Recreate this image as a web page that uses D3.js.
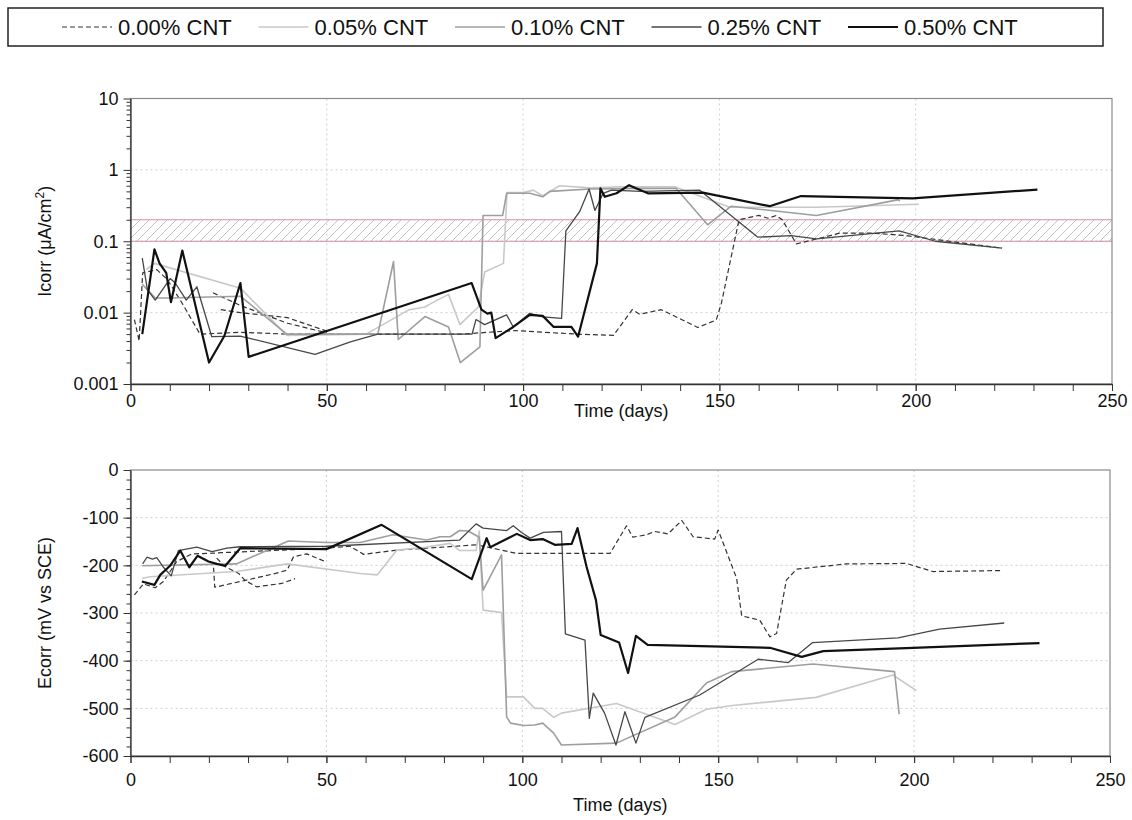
<!DOCTYPE html>
<head>
    <meta charset="utf-8">
    <script src="https://cdn.jsdelivr.net/npm/d3@7"></script>
    <style>
        body { margin: 0; background: #fff; }
        svg text { font-family: "Liberation Sans", Arial, sans-serif; fill: #111; }
    </style>
</head>
<body>
<div id="chart"></div>
<script>

    // series names (legend)
    const seriesNames = ["0.00% CNT", "0.05% CNT", "0.10% CNT", "0.25% CNT", "0.50% CNT"];

    // Icorr (uA/cm2) vs time (days) ; null = break in the line
    const icorr000 = [[1, 0.008], [2.2, 0.004], [3.1, 0.036], [6.7, 0.040], [9.4, 0.029], [13, 0.014], [17.7, 0.005],
        [28, 0.0053], [40, 0.005], [60, 0.005], [84, 0.005], [98, 0.0056], [113.6, 0.005], [123, 0.0048], [127.8, 0.011],
        [129.7, 0.0095], [135.2, 0.011], [144.5, 0.0062], [149.2, 0.0079], [150.5, 0.0135], [155, 0.2], [160, 0.23],
        [162.4, 0.21], [164.5, 0.23], [166, 0.2], [169.6, 0.092], [175.5, 0.11], [180.6, 0.13], [189, 0.13], [197.6, 0.12],
        [222, 0.08], null,
        [21, 0.019], [28, 0.0126], [40, 0.0071], [50, 0.0052], null,
        [23, 0.011], [28, 0.010], [40, 0.0085], [50, 0.0055]];
    const icorr005 = [[4, 0.04], [6.1, 0.049], [28, 0.022], [39.8, 0.0048], [60, 0.005], [71, 0.011], [75, 0.012],
        [76.7, 0.0136], [81, 0.018], [83.9, 0.0068], [88.6, 0.012], [90.2, 0.037], [95, 0.049], [95.9, 0.48], [100, 0.48],
        [102.6, 0.52], [105, 0.43], [109.3, 0.6], [117, 0.56], [125, 0.58], [138.6, 0.58], [152.6, 0.30], [174.7, 0.30],
        [200.8, 0.33]];
    const icorr010 = [[3, 0.025], [6.3, 0.016], [9.7, 0.016], [28, 0.017], [39.8, 0.005], [63, 0.005], [67, 0.052],
        [68.2, 0.0042], [75, 0.0088], [81, 0.0063], [84, 0.002], [89, 0.0033], [89.8, 0.23], [94.8, 0.23], [95.8, 0.47],
        [101.7, 0.47], [105, 0.42], [106.8, 0.5], [117, 0.54], [130, 0.55], [139, 0.55], [147, 0.17], [153, 0.31],
        [174.7, 0.23], [195.4, 0.38], [196, 0.37]];
    const icorr025 = [[3, 0.058], [4.3, 0.021], [6.3, 0.015], [10.1, 0.030], [11.4, 0.026], [14.2, 0.015], [16.9, 0.023],
        [20.7, 0.0046], [27.9, 0.0047], [47, 0.0026], [56, 0.0039], [63, 0.005], [87, 0.005], [88, 0.008], [90.2, 0.0068],
        [95.8, 0.0093], [97.5, 0.0063], [101.7, 0.0098], [105, 0.0087], [109.8, 0.0083], [110.9, 0.14], [114.4, 0.26],
        [116.8, 0.54], [118.3, 0.27], [120.4, 0.47], [122.5, 0.52], [130, 0.5], [145, 0.52], [159.8, 0.114], [168.3, 0.12],
        [174.7, 0.108], [195.8, 0.14], [205, 0.1], [222, 0.08]];
    const icorr050 = [[3, 0.005], [6.1, 0.077], [7.4, 0.049], [9.1, 0.036], [10.3, 0.014], [13.2, 0.074], [20, 0.002],
        [23.9, 0.0047], [28, 0.026], [30.1, 0.0024], [86.9, 0.026], [89.4, 0.011], [90.9, 0.0097], [91.9, 0.01], [93, 0.0044],
        [97.5, 0.0063], [101.7, 0.0093], [105, 0.009], [107.8, 0.0063], [112.3, 0.0063], [114, 0.0046], [118.8, 0.049],
        [119.7, 0.55], [120.8, 0.42], [123.8, 0.47], [127, 0.61], [128.9, 0.55], [131.8, 0.47], [145.8, 0.48], [162.8, 0.31],
        [170.8, 0.43], [199.2, 0.40], [231, 0.53]];

    // Ecorr (mV vs SCE) vs time (days)
    const ecorr000 = [[1, -262], [3.3, -239], [6.3, -247], [8.4, -234], [11.8, -192], [15.7, -176], [19.5, -175],
        [24.6, -173], [50, -164], [56, -160], [59.5, -177], [68, -168], [88.4, -157], [98.6, -175], [122.4, -175],
        [126.6, -117], [128.2, -141], [131.7, -136], [133.8, -129], [137.2, -134], [140.7, -106], [143.6, -140],
        [149.1, -145], [150, -126], [154.7, -227], [156, -306], [160.6, -315], [163.2, -350], [164.9, -343], [167.4, -231],
        [170, -208], [182.8, -197], [198, -196], [204.8, -213], [222, -211], null,
        [21.2, -205], [21.5, -246], [28, -234], [37, -217], [40, -210], [41.6, -182], [45, -176], [49.7, -192], null,
        [22, -185], [24.2, -203], [27.6, -217], [29.3, -232], [32.2, -245], [38.6, -238], [42, -228]];
    const ecorr005 = [[3, -227], [5, -224], [27, -213], [40, -197], [58.6, -217], [63, -220], [68, -168], [75.2, -162],
        [81.6, -154], [84, -169], [88.2, -169], [89, -128], [90, -294], [94.7, -299], [96, -476], [100.3, -476],
        [103.2, -500], [105.2, -500], [108, -519], [110, -510], [124, -490], [139, -534], [147, -502], [153.6, -494],
        [175, -477], [194.6, -430], [200.6, -463]];
    const ecorr010 = [[3, -201], [27, -197], [40.3, -149], [50, -152], [58.6, -152], [67, -136], [75.6, -147], [79, -140],
        [81.6, -140], [84, -127], [86.2, -128], [89, -141], [90, -252], [94.7, -178], [96, -518], [97, -531], [100.3, -536],
        [103.2, -535], [105.2, -531], [108, -552], [110, -577], [124, -573], [139, -518], [147, -447], [153.4, -423],
        [174.2, -407], [195, -423], [196.2, -512]];
    const ecorr025 = [[3.1, -197], [4.2, -183], [5.6, -187], [6.7, -184], [8.4, -204], [10.4, -222], [12.2, -169],
        [16.9, -162], [20.8, -171], [24.6, -164], [28, -161], [50, -160], [84, -147], [88.2, -113], [90, -122], [96, -127],
        [97.7, -117], [99.8, -131], [102, -143], [105.4, -131], [110, -129], [111, -344], [116, -357], [117.1, -521],
        [118.1, -468], [121, -510], [123.9, -577], [126.2, -507], [129, -573], [131.3, -519], [145.3, -472], [160.2, -397],
        [167.9, -404], [174.1, -362], [195.9, -352], [206.5, -334], [223, -321]];
    const ecorr050 = [[2.9, -234], [6.1, -241], [7.6, -220], [10.1, -201], [12.7, -169], [15, -204], [17.1, -180],
        [19.9, -192], [22, -197], [24.2, -201], [28, -164], [50, -166], [64.1, -115], [87.1, -229], [90.9, -143],
        [91.8, -162], [98.6, -134], [102, -147], [105.2, -145], [108.3, -157], [112.6, -155], [114.1, -122], [116.4, -203],
        [118.8, -273], [120, -346], [124.7, -362], [127, -426], [129, -348], [132, -367], [163.2, -373], [171.3, -392],
        [176.8, -380], [199.7, -373], [232, -363]];

    // axes
    const timeTicks = [0, 50, 100, 150, 200, 250];
    const icorrTicks = [0.001, 0.01, 0.1, 1, 10];
    const icorrTickLabels = ["0.001", "0.01", "0.1", "1", "10"];
    const ecorrTicks = [0, -100, -200, -300, -400, -500, -600];
    const band = [0.1, 0.2];  // hatched zone in Icorr

    const styles = [
        { color: "#333", width: 1.2, dash: "5,3" },
        { color: "#c8c8c8", width: 1.6, dash: null },
        { color: "#9e9e9e", width: 1.6, dash: null },
        { color: "#474747", width: 1.3, dash: null },
        { color: "#111", width: 2.2, dash: null }
    ];

    const width = 1132, height = 820;
    const svg = d3.select("#chart").append("svg")
        .attr("width", width)
        .attr("height", height);

    // hatch pattern
    const pat = svg.append("defs").append("pattern")
        .attr("id", "hatch")
        .attr("patternUnits", "userSpaceOnUse")
        .attr("width", 9).attr("height", 9);
    pat.append("path")
        .attr("d", "M-1,1 l2,-2 M0,9 l9,-9 M8,10 l2,-2")
        .attr("stroke", "#b5b5b5").attr("stroke-width", 0.8);

    // legend
    const legend = svg.append("g");
    legend.append("rect")
        .attr("x", 8).attr("y", 8).attr("width", 1095).attr("height", 38)
        .attr("fill", "none").attr("stroke", "#222").attr("stroke-width", 1.5);
    seriesNames.forEach((name, i) => {
        const x0 = 62 + i * 196.5;
        legend.append("line")
            .attr("x1", x0).attr("x2", x0 + 50).attr("y1", 27).attr("y2", 27)
            .attr("stroke", styles[i].color).attr("stroke-width", styles[i].width)
            .attr("stroke-dasharray", styles[i].dash);
        legend.append("text")
            .attr("x", x0 + 56).attr("y", 35)
            .style("font-size", "22px")
            .text(name);
    });

    function drawPanel(opts) {
        const g = svg.append("g");
        const x = d3.scaleLinear().domain([0, 250]).range([opts.left, opts.right]);
        const y = opts.y;

        // grid
        g.append("g").selectAll("line")
            .data(timeTicks.slice(1, -1))
            .join("line")
            .attr("x1", d => x(d)).attr("x2", d => x(d))
            .attr("y1", opts.top).attr("y2", opts.bottom)
            .attr("stroke", "#cfcfcf").attr("stroke-dasharray", "2,3");
        g.append("g").selectAll("line")
            .data(opts.gridY)
            .join("line")
            .attr("x1", opts.left).attr("x2", opts.right)
            .attr("y1", d => y(d)).attr("y2", d => y(d))
            .attr("stroke", "#cfcfcf").attr("stroke-dasharray", "2,3");

        if (opts.band) {
            g.append("rect")
                .attr("x", opts.left).attr("width", opts.right - opts.left)
                .attr("y", y(opts.band[1])).attr("height", y(opts.band[0]) - y(opts.band[1]))
                .attr("fill", "url(#hatch)");
            g.append("g").selectAll("line")
                .data(opts.band)
                .join("line")
                .attr("x1", opts.left).attr("x2", opts.right)
                .attr("y1", d => y(d)).attr("y2", d => y(d))
                .attr("stroke", "#cf8f9e").attr("stroke-width", 1.2);
        }

        // frame
        g.append("rect")
            .attr("x", opts.left).attr("y", opts.top)
            .attr("width", opts.right - opts.left).attr("height", opts.bottom - opts.top)
            .attr("fill", "none").attr("stroke", "#8a8a8a").attr("stroke-width", 1.2);

        // data lines
        const line = d3.line()
            .defined(d => d !== null)
            .x(d => x(d[0]))
            .y(d => y(d[1]));
        opts.series.forEach((s, i) => {
            g.append("path")
                .datum(s)
                .attr("d", line)
                .attr("fill", "none")
                .attr("stroke", styles[i].color)
                .attr("stroke-width", styles[i].width)
                .attr("stroke-dasharray", styles[i].dash)
                .attr("stroke-linejoin", "round");
        });

        // x axis: minor ticks every 10 days
        g.append("g")
            .attr("transform", `translate(0,${opts.bottom})`)
            .call(d3.axisBottom(x).tickValues(d3.range(0, 251, 10)).tickSize(7).tickFormat(""))
            .call(a => a.select(".domain").remove())
            .call(a => a.selectAll("line").attr("stroke", "#333"));
        g.append("g")
            .attr("transform", `translate(0,${opts.bottom})`)
            .call(d3.axisBottom(x).tickValues(timeTicks).tickSize(7).tickPadding(opts.xPad).tickSizeOuter(0))
            .call(a => a.select(".domain").attr("stroke", "#333").attr("stroke-width", 1.3))
            .call(a => a.selectAll("line").attr("stroke", "#333"))
            .call(a => a.selectAll("text").style("font-size", "18px").attr("fill", "#111"));

        // y axis
        g.append("g")
            .attr("transform", `translate(${opts.left},0)`)
            .call(d3.axisLeft(y).tickValues(opts.minorY).tickSize(4).tickFormat(""))
            .call(a => a.select(".domain").remove())
            .call(a => a.selectAll("line").attr("stroke", "#333"));
        g.append("g")
            .attr("transform", `translate(${opts.left},0)`)
            .call(d3.axisLeft(y).tickValues(opts.ticksY).tickSize(7).tickPadding(5).tickSizeOuter(0)
                .tickFormat(opts.formatY))
            .call(a => a.select(".domain").attr("stroke", "#333").attr("stroke-width", 1.3))
            .call(a => a.selectAll("line").attr("stroke", "#333"))
            .call(a => a.selectAll("text").style("font-size", "18px").attr("fill", "#111"));

        // titles
        g.append("text")
            .attr("x", (opts.left + opts.right) / 2).attr("y", opts.bottom + opts.xTitle)
            .attr("text-anchor", "middle")
            .style("font-size", "18px")
            .text("Time (days)");
        const yt = g.append("text")
            .attr("transform", `translate(51,${(opts.top + opts.bottom) / 2}) rotate(-90)`)
            .attr("text-anchor", "middle")
            .style("font-size", "18px");
        opts.yTitle(yt);
    }

    // top panel: Icorr, log scale
    const yTop = d3.scaleLog().domain([0.001, 10]).range([384, 98.5]);
    drawPanel({
        left: 130.5, right: 1112, top: 98.5, bottom: 384,
        y: yTop,
        ticksY: icorrTicks,
        formatY: (d, i) => icorrTickLabels[i],
        minorY: yTop.ticks().filter(d => !icorrTicks.includes(d)),
        gridY: [0.01, 0.1, 1],
        band: band,
        series: [icorr000, icorr005, icorr010, icorr025, icorr050],
        xPad: 3, xTitle: 33,
        yTitle: t => {
            t.append("tspan").text("Icorr (\u03bcA/cm");
            t.append("tspan").attr("dy", -7).style("font-size", "12px").text("2");
            t.append("tspan").attr("dy", 7).text(")");
        }
    });

    // bottom panel: Ecorr
    const yBot = d3.scaleLinear().domain([-600, 0]).range([756, 470]);
    drawPanel({
        left: 130.5, right: 1110, top: 470, bottom: 756,
        y: yBot,
        ticksY: ecorrTicks,
        formatY: d => d3.format("d")(d).replace("\u2212", "-"),
        minorY: d3.range(-600, 1, 20),
        gridY: [-100, -200, -300, -400, -500],
        band: null,
        series: [ecorr000, ecorr005, ecorr010, ecorr025, ecorr050],
        xPad: 10, xTitle: 55,
        yTitle: t => t.text("Ecorr (mV vs SCE)")
    });

</script>
</body>
